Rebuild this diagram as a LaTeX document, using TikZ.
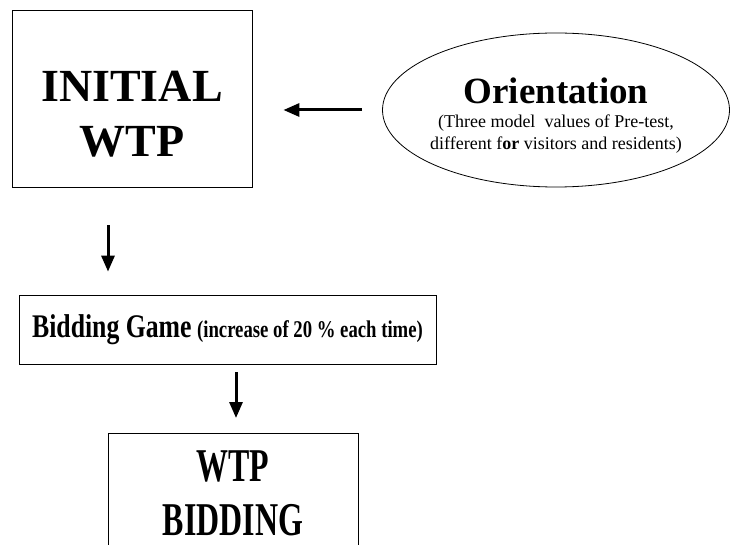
\documentclass[tikz,border=0pt]{standalone}
\usepackage{fontspec}
\setmainfont{Liberation Serif}
\newfontfamily\narrowfont[FakeStretch=0.78]{Liberation Serif}
\newfontfamily\tallfont[FakeStretch=0.68]{Liberation Serif}
\usepackage{tikz}
\usetikzlibrary{arrows.meta,positioning,shapes.geometric}

\begin{document}
\begin{tikzpicture}[x=1pt, y=-1pt, line width=.8pt]
\tikzstyle{box} = [draw, rectangle, align=center, inner sep=0pt]
\tikzstyle{arr} = [-{Triangle[length=16pt,width=13pt]}, line width=3pt]
\clip (0,0) rectangle (730,545);
\useasboundingbox (0,0) rectangle (730,545);
\node (initial) [box, minimum width=240pt, minimum height=177pt,
  font=\fontsize{46}{55}\selectfont\bfseries] at (132,98.5)
  {\rule{0pt}{62pt}INITIAL\hspace{10pt}\\WTP};
\node (orient) [draw, ellipse, align=center, inner ysep=0pt, inner xsep=-8pt,
  minimum width=347pt, minimum height=154pt, font=\fontsize{18}{22}\selectfont] at (556,110)
  {\rule{0pt}{36pt}{\fontsize{37}{40}\selectfont\bfseries Orientation}\\[2pt]
   (Three model~ values of Pre-test,\\
   different f\textbf{or} visitors and residents)};
\node (bid) [box, minimum width=417pt, minimum height=69pt,
  font=\narrowfont\bfseries\fontsize{33}{36}\selectfont] at (227.5,329.5)
  {Bidding Game\,{\fontsize{24}{26}\selectfont (increase of 20 \% each time)}};
\node (wtp) [box, anchor=north, minimum width=250pt, inner ysep=17pt,
  font=\tallfont\bfseries\fontsize{47}{54}\selectfont] at (233,433)
  {WTP\\BIDDING};
\coordinate (a1) at (108,0);
\coordinate (a2) at (236,0);
\draw[arr, shorten <=20pt, shorten >=31pt] (orient.west) -- (orient.west -| initial.east);
\draw[arr, shorten <=38pt, shorten >=23pt] (initial.south -| a1) -- (bid.north -| a1);
\draw[arr, shorten <=8pt, shorten >=15pt] (bid.south -| a2) -- (wtp.north -| a2);
\end{tikzpicture}
\end{document}
